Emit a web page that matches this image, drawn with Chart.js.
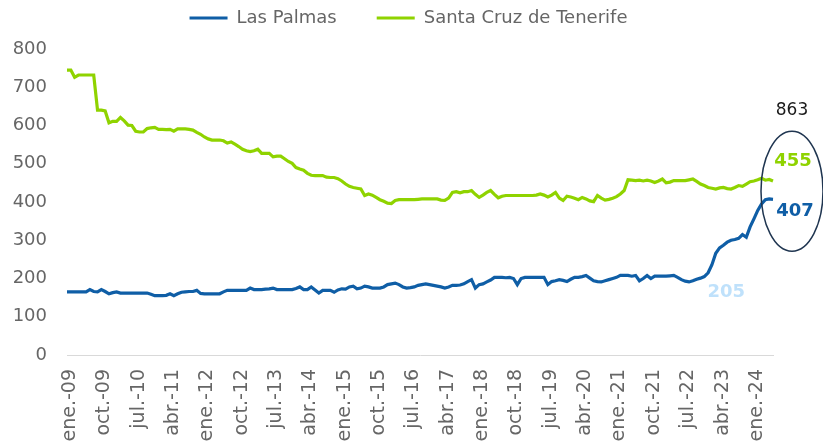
<!DOCTYPE html>
<html>
<head>
<meta charset="utf-8">
<script src="https://cdn.jsdelivr.net/npm/chart.js@4.4.1/dist/chart.umd.min.js"></script>
<style>
html,body{margin:0;padding:0;background:#fff;overflow:hidden;}
canvas{display:block;}
</style>
</head>
<body>
<canvas id="c" width="823" height="448"></canvas>
<script>
// ---- data ----
const monthNames = ['ene.','feb.','mar.','abr.','may.','jun.','jul.','ago.','sep.','oct.','nov.','dic.'];
const startYear = 2009;
const monthCount = 186; // ene.-09 .. jun.-24
const tickEvery = 9;
const tickLabels = ['ene.-09','oct.-09','jul.-10','abr.-11','ene.-12','oct.-12','jul.-13','abr.-14','ene.-15','oct.-15','jul.-16','abr.-17','ene.-18','oct.-18','jul.-19','abr.-20','ene.-21','oct.-21','jul.-22','abr.-23','ene.-24'];

const lasPalmas = [
165,165,165,165,165,165,171,166,165,171,166,160,163,165,162,162,162,162,162,162,
162,162,159,155,155,155,156,160,155,160,164,165,166,166,169,161,160,160,160,160,
160,165,169,169,169,169,169,169,175,171,171,171,172,173,175,171,171,171,171,171,
174,178,171,171,178,170,162,169,169,169,164,170,173,172,178,180,173,175,180,178,
175,175,175,178,184,186,188,184,178,175,176,178,182,184,186,184,182,180,178,175,
178,182,182,183,186,192,197,175,184,186,191,196,203,203,203,202,203,200,184,200,
203,203,203,203,203,203,184,192,194,197,195,192,198,203,203,205,208,201,194,192,
191,194,197,200,203,208,208,208,206,208,194,200,208,200,206,206,206,206,207,208,
203,197,193,191,194,198,201,205,215,236,266,280,287,295,300,302,305,315,308,335,
356,378,395,406,408,407];

const santaCruz = [
745,745,726,732,732,732,732,732,640,640,638,607,611,611,621,612,601,600,585,583,
583,592,594,595,590,590,589,590,585,591,591,591,590,588,582,577,570,565,562,562,
562,560,554,557,551,545,538,534,532,534,538,527,527,527,518,520,520,513,506,501,
490,486,483,475,470,469,469,469,465,464,464,461,455,447,441,438,436,434,417,421,
418,412,406,402,397,396,404,406,406,406,406,406,407,408,408,408,408,408,405,404,
410,425,427,424,427,427,430,420,412,418,425,430,420,411,415,417,417,417,417,417,
417,417,417,418,421,418,413,418,425,410,404,415,413,410,406,412,408,403,401,417,
410,405,407,410,414,421,430,458,457,456,457,455,457,455,451,455,460,450,452,456,
456,456,456,458,460,454,447,443,438,436,434,437,438,435,434,438,443,441,447,453,
455,458,462,457,459,455];

const seriesNames = ['Las Palmas','Santa Cruz de Tenerife'];
const totalLabel = '863';
const lowLabel = {index: 167, text: '205'};

const categories = [];
for (let i = 0; i < monthCount; i++) {
  const y = startYear + Math.floor(i / 12);
  categories.push(monthNames[i % 12] + '-' + String(y % 100).padStart(2, '0'));
}

// ---- styles ----
const BLUE = '#0f5ea6';
const GREEN = '#8fd300';
const LIGHTBLUE = '#bfe1fb';
const NAVY = '#1f3550';
const GREY = '#666666';
const FONT = '"DejaVu Sans"';

// legend spacing / placement tweaks
const legendTweak = {
  id: 'legendTweak',
  beforeLayout(chart) {
    const lg = chart.legend;
    if (lg && !lg._gapPatched) {
      const f = lg.fit.bind(lg);
      lg.fit = function() { f(); this.height += 12; };
      lg._gapPatched = true;
    }
  },
  afterLayout(chart) {
    if (chart.legend) chart.legend.left += 44;
  }
};

const annot = {
  id: 'annot',
  afterDatasetsDraw(chart) {
    const {ctx, scales: {x, y}} = chart;
    const last = monthCount - 1;
    const xl = x.getPixelForValue(last);
    ctx.save();
    ctx.textAlign = 'center';
    ctx.textBaseline = 'middle';
    const yg = y.getPixelForValue(santaCruz[last]);
    const yb = y.getPixelForValue(lasPalmas[last]);
    const cy = (yg + yb) / 2;
    ctx.beginPath();
    ctx.ellipse(xl + 19, cy + 1, 31, 60, 0, 0, Math.PI * 2);
    ctx.strokeStyle = NAVY;
    ctx.lineWidth = 1.5;
    ctx.stroke();
    ctx.font = 'bold 18px ' + FONT;
    ctx.fillStyle = GREEN;
    ctx.fillText(String(santaCruz[last]), xl + 20, yg - 20);
    ctx.fillStyle = BLUE;
    ctx.fillText(String(lasPalmas[last]), xl + 22, yb + 12);
    ctx.font = '17px ' + FONT;
    ctx.fillStyle = '#1a1a1a';
    ctx.fillText(totalLabel, xl + 19, cy - 80);
    ctx.font = 'bold 18px ' + FONT;
    ctx.fillStyle = LIGHTBLUE;
    ctx.fillText(lowLabel.text, x.getPixelForValue(lowLabel.index) + 22, y.getPixelForValue(lasPalmas[lowLabel.index]) + 16);
    ctx.restore();
  }
};

new Chart(document.getElementById('c'), {
  type: 'line',
  data: {
    labels: categories,
    datasets: [
      {label: seriesNames[0], data: lasPalmas, borderColor: BLUE, backgroundColor: BLUE, borderWidth: 3.2, pointRadius: 0, tension: 0},
      {label: seriesNames[1], data: santaCruz, borderColor: GREEN, backgroundColor: GREEN, borderWidth: 3.2, pointRadius: 0, tension: 0}
    ]
  },
  plugins: [legendTweak, annot],
  options: {
    responsive: false,
    animation: false,
    devicePixelRatio: 1,
    layout: {padding: {left: 0, right: 50, top: -31, bottom: 0}},
    plugins: {
      tooltip: {enabled: false},
      legend: {
        display: true,
        position: 'top',
        labels: {
          usePointStyle: true,
          pointStyle: 'line',
          pointStyleWidth: 38,
          boxHeight: 3,
          color: GREY,
          font: {family: 'DejaVu Sans', size: 18},
          padding: 40
        }
      }
    },
    scales: {
      x: {
        type: 'category',
        offset: false,
        grid: {display: false, drawTicks: false},
        border: {display: true, color: '#d9d9d9', width: 1},
        afterFit: (s) => { s.height = 93; },
        ticks: {
          autoSkip: false,
          maxRotation: 90,
          minRotation: 90,
          padding: 14,
          labelOffset: 3,
          color: GREY,
          font: {family: 'DejaVu Sans', size: 19},
          callback: function(v, i) { return i % tickEvery === 0 ? tickLabels[i / tickEvery] : null; }
        }
      },
      y: {
        min: 0,
        max: 800,
        grid: {display: false, drawTicks: false},
        border: {display: false},
        afterFit: (s) => { s.width = 67; },
        ticks: {stepSize: 100, padding: 20, color: GREY, font: {family: 'DejaVu Sans', size: 18}}
      }
    }
  }
});
</script>
</body>
</html>
